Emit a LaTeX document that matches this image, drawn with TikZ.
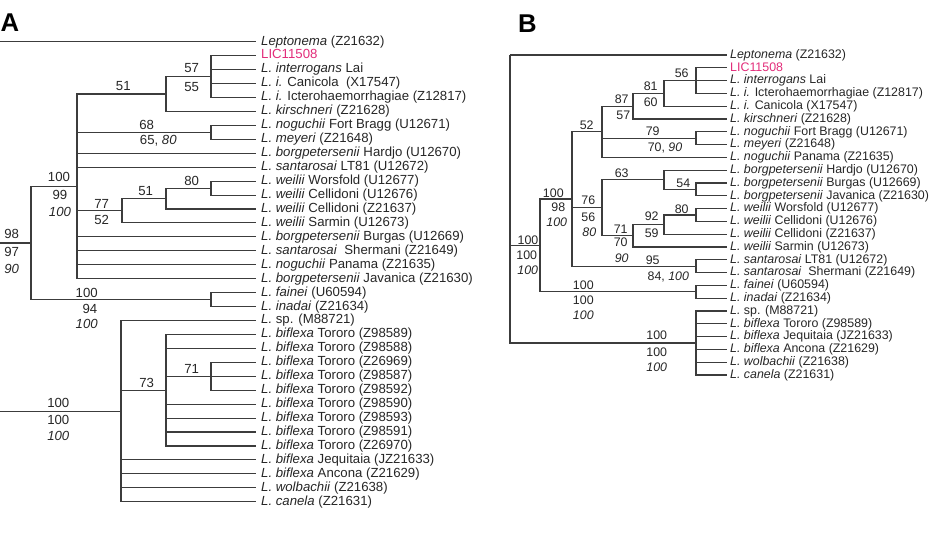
\documentclass[tikz,border=0pt]{standalone}
\usepackage{fontspec}
\setmainfont{Liberation Sans}
\usepackage{tikz}
\definecolor{licpink}{RGB}{226,45,122}
\definecolor{treegray}{RGB}{60,60,60}

\begin{document}
\begin{tikzpicture}[x=1pt, y=-1pt,
    branch/.style={draw=treegray, line width=1.1pt},
    leafA/.style={anchor=west, inner xsep=5pt, inner ysep=0pt, text height=9.6pt, text depth=2.8pt,
        font=\fontsize{13.2}{14}\selectfont, text=black!85},
    leafB/.style={anchor=west, inner xsep=3pt, inner ysep=0pt, text height=9pt, text depth=2.6pt,
        font=\fontsize{12.4}{13}\selectfont, text=black!85},
    supA/.style={inner sep=0pt, text height=9.4pt, text depth=0pt, font=\fontsize{13.2}{14}\selectfont, text=black!85},
    supB/.style={inner sep=0pt, text height=8.9pt, text depth=0pt, font=\fontsize{12.4}{13}\selectfont, text=black!85},
    panel/.style={inner sep=0pt, font=\bfseries\fontsize{25.7}{27}\selectfont}]
    \useasboundingbox (0,0) rectangle (929,543);

    % --- Panel A ---
    \node[panel, anchor=base west] (pA) at (0.5,31.7) {A};
    % Leaves of A
    \node[leafA] (a1) at (256,41.7) {\textit{Leptonema} (Z21632)};
    \node[leafA, text=licpink] (a2) at (256,55.6) {LIC11508};
    \node[leafA] (a3) at (256,69.6) {\textit{L. interrogans} Lai};
    \node[leafA] (a4) at (256,83.5) {\textit{L. i.} Canicola\ \ (X17547)};
    \node[leafA] (a5) at (256,97.5) {\textit{L. i.} Icterohaemorrhagiae (Z12817)};
    \node[leafA] (a6) at (256,111.4) {\textit{L. kirschneri} (Z21628)};
    \node[leafA] (a7) at (256,125.3) {\textit{L. noguchii} Fort Bragg (U12671)};
    \node[leafA] (a8) at (256,139.3) {\textit{L. meyeri} (Z21648)};
    \node[leafA] (a9) at (256,153.2) {\textit{L. borgpetersenii} Hardjo (U12670)};
    \node[leafA] (a10) at (256,167.2) {\textit{L. santarosai} LT81 (U12672)};
    \node[leafA] (a11) at (256,181.1) {\textit{L. weilii} Worsfold (U12677)};
    \node[leafA] (a12) at (256,195.1) {\textit{L. weilii} Cellidoni (U12676)};
    \node[leafA] (a13) at (256,209.0) {\textit{L. weilii} Cellidoni (Z21637)};
    \node[leafA] (a14) at (256,222.9) {\textit{L. weilii} Sarmin (U12673)};
    \node[leafA] (a15) at (256,236.9) {\textit{L. borgpetersenii} Burgas (U12669)};
    \node[leafA] (a16) at (256,250.8) {\textit{L. santarosai}\ \ Shermani (Z21649)};
    \node[leafA] (a17) at (256,264.7) {\textit{L. noguchii} Panama (Z21635)};
    \node[leafA] (a18) at (256,278.7) {\textit{L. borgpetersenii} Javanica (Z21630)};
    \node[leafA] (a19) at (256,292.6) {\textit{L. fainei} (U60594)};
    \node[leafA] (a20) at (256,306.6) {\textit{L. inadai} (Z21634)};
    \node[leafA] (a21) at (256,320.5) {\textit{L.} sp. (M88721)};
    \node[leafA] (a22) at (256,334.4) {\textit{L. biflexa} Tororo (Z98589)};
    \node[leafA] (a23) at (256,348.4) {\textit{L. biflexa} Tororo (Z98588)};
    \node[leafA] (a24) at (256,362.3) {\textit{L. biflexa} Tororo (Z26969)};
    \node[leafA] (a25) at (256,376.3) {\textit{L. biflexa} Tororo (Z98587)};
    \node[leafA] (a26) at (256,390.2) {\textit{L. biflexa} Tororo (Z98592)};
    \node[leafA] (a27) at (256,404.1) {\textit{L. biflexa} Tororo (Z98590)};
    \node[leafA] (a28) at (256,418.1) {\textit{L. biflexa} Tororo (Z98593)};
    \node[leafA] (a29) at (256,432.0) {\textit{L. biflexa} Tororo (Z98591)};
    \node[leafA] (a30) at (256,446.0) {\textit{L. biflexa} Tororo (Z26970)};
    \node[leafA] (a31) at (256,459.9) {\textit{L. biflexa} Jequitaia (JZ21633)};
    \node[leafA] (a32) at (256,473.9) {\textit{L. biflexa} Ancona (Z21629)};
    \node[leafA] (a33) at (256,487.8) {\textit{L. wolbachii} (Z21638)};
    \node[leafA] (a34) at (256,501.7) {\textit{L. canela} (Z21631)};
    % Internal nodes of A
    \coordinate (aroot) at (-3,41.7);
    \coordinate (a98) at (31,243.0);
    \coordinate (amain) at (77,186.4);
    \coordinate (a51) at (166,94.0);
    \coordinate (a57) at (211,76.6);
    \coordinate (a68) at (211,132.3);
    \coordinate (a77) at (122,210.7);
    \coordinate (aw51) at (166,198.6);
    \coordinate (aw80) at (211,188.1);
    \coordinate (afai) at (211,299.6);
    \coordinate (abif) at (121,411.1);
    \coordinate (a73) at (166,390.2);
    \coordinate (a71) at (211,376.3);
    % Branches of A
    \draw[branch] (aroot) |- (a1.west) (aroot) |- (a98) (aroot) |- (abif);
    \draw[branch] (a98) |- (amain) (a98) |- (afai);
    \draw[branch] (amain) |- (a51) (amain) |- (a68) (amain) |- (a9.west) (amain) |- (a10.west)
        (amain) |- (a77) (amain) |- (a15.west) (amain) |- (a16.west) (amain) |- (a17.west) (amain) |- (a18.west);
    \draw[branch] (a51) |- (a57) (a51) |- (a6.west);
    \draw[branch] (a57) |- (a2.west) (a57) |- (a3.west) (a57) |- (a4.west) (a57) |- (a5.west);
    \draw[branch] (a68) |- (a7.west) (a68) |- (a8.west);
    \draw[branch] (a77) |- (aw51) (a77) |- (a14.west);
    \draw[branch] (aw51) |- (aw80) (aw51) |- (a13.west);
    \draw[branch] (aw80) |- (a11.west) (aw80) |- (a12.west);
    \draw[branch] (afai) |- (a19.west) (afai) |- (a20.west);
    \draw[branch] (abif) |- (a21.west) (abif) |- (a73) (abif) |- (a31.west) (abif) |- (a32.west)
        (abif) |- (a33.west) (abif) |- (a34.west);
    \draw[branch] (a73) |- (a22.west) (a73) |- (a23.west) (a73) |- (a71) (a73) |- (a27.west)
        (a73) |- (a28.west) (a73) |- (a29.west) (a73) |- (a30.west);
    \draw[branch] (a71) |- (a24.west) (a71) |- (a25.west) (a71) |- (a26.west);
    % Support values of A
    \node[supA] (sa1) at (191.7,68.3) {57};
    \node[supA] (sa2) at (191.7,87.3) {55};
    \node[supA] (sa3) at (123.3,86) {51};
    \node[supA] (sa4) at (146.7,125) {68};
    \node[supA] (sa5) at (158.3,140) {65, \textit{80}};
    \node[supA] (sa6) at (59,176.7) {100};
    \node[supA] (sa7) at (60,195) {99};
    \node[supA] (sa8) at (60,211.7) {\textit{100}};
    \node[supA] (sa9) at (11.7,234) {98};
    \node[supA] (sa10) at (11.7,251.7) {97};
    \node[supA] (sa11) at (11.7,268.3) {\textit{90}};
    \node[supA] (sa12) at (101.7,203.3) {77};
    \node[supA] (sa13) at (101.7,219.3) {52};
    \node[supA] (sa14) at (145.7,190.7) {51};
    \node[supA] (sa15) at (191.7,180.7) {80};
    \node[supA] (sa16) at (86.7,292.3) {100};
    \node[supA] (sa17) at (90,308.3) {94};
    \node[supA] (sa18) at (86.7,324) {\textit{100}};
    \node[supA] (sa19) at (146.7,383) {73};
    \node[supA] (sa20) at (191.7,368.3) {71};
    \node[supA] (sa21) at (58.3,402.7) {100};
    \node[supA] (sa22) at (58.3,420) {100};
    \node[supA] (sa23) at (58.3,436) {\textit{100}};

    % --- Panel B ---
    \node[panel, anchor=base west] (pB) at (518,33) {B};
    % Leaves of B
    \node[leafB] (b1) at (727,55.0) {\textit{Leptonema} (Z21632)};
    \node[leafB, text=licpink] (b2) at (727,67.8) {LIC11508};
    \node[leafB] (b3) at (727,80.6) {\textit{L. interrogans} Lai};
    \node[leafB] (b4) at (727,93.4) {\textit{L. i.} Icterohaemorrhagiae (Z12817)};
    \node[leafB] (b5) at (727,106.2) {\textit{L. i.} Canicola (X17547)};
    \node[leafB] (b6) at (727,119.0) {\textit{L. kirschneri} (Z21628)};
    \node[leafB] (b7) at (727,131.8) {\textit{L. noguchii} Fort Bragg (U12671)};
    \node[leafB] (b8) at (727,144.6) {\textit{L. meyeri} (Z21648)};
    \node[leafB] (b9) at (727,157.4) {\textit{L. noguchii} Panama (Z21635)};
    \node[leafB] (b10) at (727,170.2) {\textit{L. borgpetersenii} Hardjo (U12670)};
    \node[leafB] (b11) at (727,183.0) {\textit{L. borgpetersenii} Burgas (U12669)};
    \node[leafB] (b12) at (727,195.8) {\textit{L. borgpetersenii} Javanica (Z21630)};
    \node[leafB] (b13) at (727,208.6) {\textit{L. weilii} Worsfold (U12677)};
    \node[leafB] (b14) at (727,221.4) {\textit{L. weilii} Cellidoni (U12676)};
    \node[leafB] (b15) at (727,234.2) {\textit{L. weilii} Cellidoni (Z21637)};
    \node[leafB] (b16) at (727,247.0) {\textit{L. weilii} Sarmin (U12673)};
    \node[leafB] (b17) at (727,259.8) {\textit{L. santarosai} LT81 (U12672)};
    \node[leafB] (b18) at (727,272.6) {\textit{L. santarosai}\ \ Shermani (Z21649)};
    \node[leafB] (b19) at (727,285.4) {\textit{L. fainei} (U60594)};
    \node[leafB] (b20) at (727,298.2) {\textit{L. inadai} (Z21634)};
    \node[leafB] (b21) at (727,311.0) {\textit{L.} sp. (M88721)};
    \node[leafB] (b22) at (727,323.8) {\textit{L. biflexa} Tororo (Z98589)};
    \node[leafB] (b23) at (727,336.6) {\textit{L. biflexa} Jequitaia (JZ21633)};
    \node[leafB] (b24) at (727,349.4) {\textit{L. biflexa} Ancona (Z21629)};
    \node[leafB] (b25) at (727,362.2) {\textit{L. wolbachii} (Z21638)};
    \node[leafB] (b26) at (727,375.0) {\textit{L. canela} (Z21631)};
    % Internal nodes of B
    \coordinate (broot) at (510,55.0);
    \coordinate (b100) at (540,245.4);
    \coordinate (b98) at (572,199.0);
    \coordinate (b52) at (602,131.8);
    \coordinate (b87) at (633,106.2);
    \coordinate (b81) at (664,93.4);
    \coordinate (b56) at (696,80.6);
    \coordinate (b79) at (696,138.2);
    \coordinate (b76) at (602,207.8);
    \coordinate (b63) at (664,179.8);
    \coordinate (b54) at (696,189.4);
    \coordinate (b71) at (633,235.8);
    \coordinate (b92) at (664,224.6);
    \coordinate (b80) at (696,215.0);
    \coordinate (b95) at (696,266.2);
    \coordinate (bfai) at (696,291.8);
    \coordinate (bbif) at (696,343.0);
    % Branches of B
    \draw[branch] (broot) |- (b1.west) (broot) |- (b100) (broot) |- (bbif);
    \draw[branch] (b100) |- (b98) (b100) |- (bfai);
    \draw[branch] (b98) |- (b52) (b98) |- (b76) (b98) |- (b95);
    \draw[branch] (b52) |- (b87) (b52) |- (b79) (b52) |- (b9.west);
    \draw[branch] (b87) |- (b81) (b87) |- (b6.west);
    \draw[branch] (b81) |- (b56) (b81) |- (b5.west);
    \draw[branch] (b56) |- (b2.west) (b56) |- (b3.west) (b56) |- (b4.west);
    \draw[branch] (b79) |- (b7.west) (b79) |- (b8.west);
    \draw[branch] (b76) |- (b63) (b76) |- (b71);
    \draw[branch] (b63) |- (b10.west) (b63) |- (b54);
    \draw[branch] (b54) |- (b11.west) (b54) |- (b12.west);
    \draw[branch] (b71) |- (b92) (b71) |- (b16.west);
    \draw[branch] (b92) |- (b80) (b92) |- (b15.west);
    \draw[branch] (b80) |- (b13.west) (b80) |- (b14.west);
    \draw[branch] (b95) |- (b17.west) (b95) |- (b18.west);
    \draw[branch] (bfai) |- (b19.west) (bfai) |- (b20.west);
    \draw[branch] (bbif) |- (b21.west) (bbif) |- (b22.west) (bbif) |- (b23.west) (bbif) |- (b24.west)
        (bbif) |- (b25.west) (bbif) |- (b26.west);
    % Support values of B
    \node[supB] (sb1) at (681.7,72.7) {56};
    \node[supB] (sb2) at (650.7,86) {81};
    \node[supB] (sb3) at (650.7,101.7) {60};
    \node[supB] (sb4) at (621.7,99) {87};
    \node[supB] (sb5) at (623.3,115) {57};
    \node[supB] (sb6) at (586.7,125) {52};
    \node[supB] (sb7) at (652.7,131) {79};
    \node[supB] (sb8) at (665,146.7) {70, \textit{90}};
    \node[supB] (sb9) at (621.7,173.3) {63};
    \node[supB] (sb10) at (683.3,183.3) {54};
    \node[supB] (sb11) at (553.3,192.7) {100};
    \node[supB] (sb12) at (558.3,206.7) {98};
    \node[supB] (sb13) at (556.7,221.7) {\textit{100}};
    \node[supB] (sb14) at (588.3,200) {76};
    \node[supB] (sb15) at (588.3,216.7) {56};
    \node[supB] (sb16) at (589.3,232.3) {\textit{80}};
    \node[supB] (sb17) at (651.7,216) {92};
    \node[supB] (sb18) at (651.7,232.7) {59};
    \node[supB] (sb19) at (681.7,209.3) {80};
    \node[supB] (sb20) at (620.7,229.3) {71};
    \node[supB] (sb21) at (620.7,241.7) {70};
    \node[supB] (sb22) at (621.7,258.3) {\textit{90}};
    \node[supB] (sb23) at (652.7,260) {95};
    \node[supB] (sb24) at (668.3,276) {84, \textit{100}};
    \node[supB] (sb25) at (528,240) {100};
    \node[supB] (sb26) at (526.7,255) {100};
    \node[supB] (sb27) at (527.7,270) {\textit{100}};
    \node[supB] (sb28) at (583.3,285) {100};
    \node[supB] (sb29) at (583.3,300) {100};
    \node[supB] (sb30) at (583.3,315) {\textit{100}};
    \node[supB] (sb31) at (656.7,335) {100};
    \node[supB] (sb32) at (656.7,351.7) {100};
    \node[supB] (sb33) at (656.7,367.3) {\textit{100}};
\end{tikzpicture}
\end{document}
